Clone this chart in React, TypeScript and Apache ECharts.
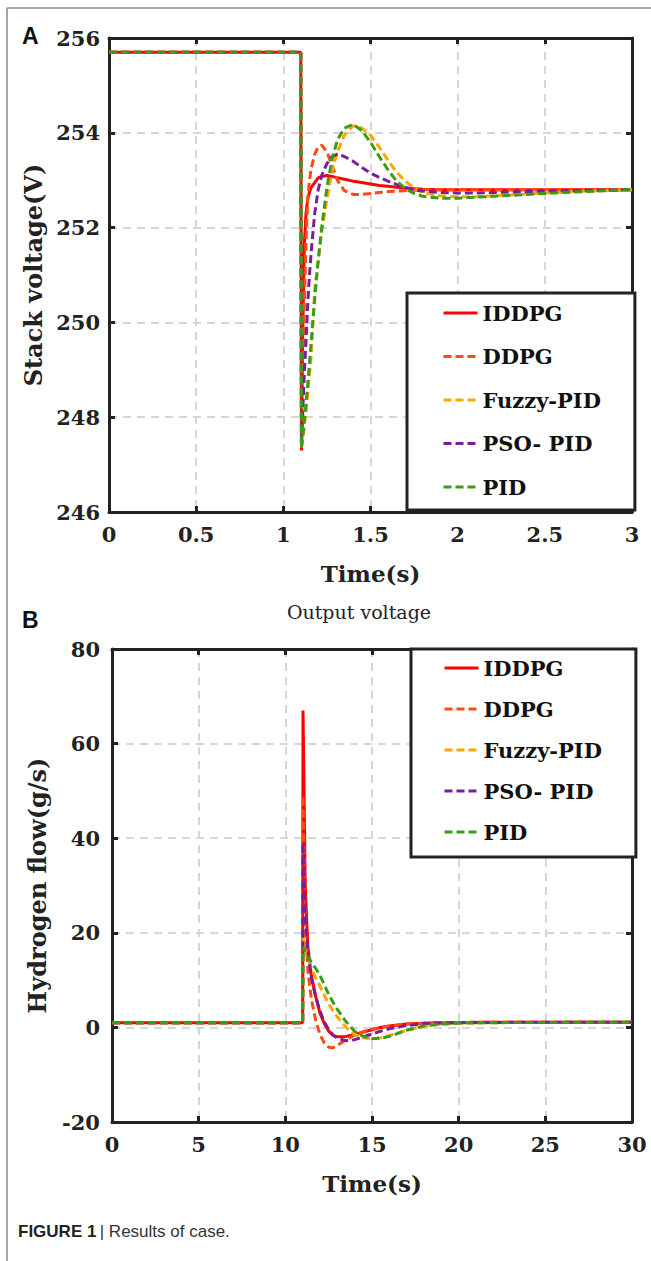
import React, { useEffect, useRef } from "react";
import * as echarts from "echarts";

// ---------- Data ----------
const seriesNames = ["IDDPG", "DDPG", "Fuzzy-PID", "PSO- PID", "PID"];
const seriesColors = ["#ff0000", "#ff4a12", "#ffa500", "#7a1f9c", "#3a9d1a"];

// Chart A: stack voltage (V) vs time (s)
const timeA = [0, 1.1, 1.104, 1.11, 1.12, 1.13, 1.14, 1.15, 1.16, 1.18, 1.2, 1.22, 1.25, 1.28, 1.31, 1.35, 1.4, 1.45, 1.5, 1.55, 1.6, 1.65, 1.7, 1.75, 1.8, 1.9, 2.0, 2.1, 2.2, 2.4, 2.6, 2.8, 3.0];
const iddpgA = [255.7, 255.7, 247.3, 249.5, 251.6, 252.3, 252.6, 252.75, 252.85, 252.95, 253.05, 253.08, 253.1, 253.08, 253.05, 253.02, 252.98, 252.95, 252.92, 252.89, 252.87, 252.85, 252.83, 252.82, 252.81, 252.8, 252.8, 252.8, 252.8, 252.8, 252.8, 252.8, 252.8];
const ddpgA = [255.7, 255.7, 247.4, 248.6, 250.3, 251.7, 252.6, 253.0, 253.25, 253.55, 253.7, 253.74, 253.6, 253.3, 253.0, 252.78, 252.7, 252.7, 252.72, 252.74, 252.76, 252.77, 252.78, 252.79, 252.8, 252.8, 252.8, 252.8, 252.8, 252.8, 252.8, 252.8, 252.8];
const fuzzyA = [255.7, 255.7, 247.35, 247.5, 247.8, 248.1, 248.5, 248.9, 249.3, 250.7, 251.3, 251.9, 252.6, 253.2, 253.6, 253.95, 254.15, 254.1, 253.95, 253.7, 253.42, 253.17, 252.98, 252.83, 252.74, 252.67, 252.65, 252.65, 252.67, 252.71, 252.75, 252.78, 252.8];
const psoA = [255.7, 255.7, 247.4, 248.0, 248.9, 249.6, 250.4, 251.0, 251.5, 252.3, 252.8, 253.1, 253.35, 253.5, 253.55, 253.5, 253.4, 253.27, 253.15, 253.06, 252.98, 252.91, 252.85, 252.8, 252.77, 252.74, 252.73, 252.73, 252.74, 252.76, 252.78, 252.79, 252.8];
const pidA = [255.7, 255.7, 247.35, 247.55, 247.9, 248.3, 248.7, 249.15, 249.6, 250.5, 251.3, 252.0, 252.85, 253.45, 253.85, 254.1, 254.18, 254.05, 253.8, 253.5, 253.22, 252.98, 252.82, 252.72, 252.66, 252.62, 252.62, 252.64, 252.66, 252.7, 252.74, 252.77, 252.8];

// Chart B: hydrogen flow (g/s) vs time (s)
const timeB = [0, 11, 11.02, 11.15, 11.3, 11.5, 11.75, 12, 12.25, 12.5, 12.75, 13, 13.5, 14, 14.5, 15, 15.5, 16, 17, 18, 19, 20, 22, 25, 30];
const iddpgB = [1, 1, 67, 30, 17, 11, 6.5, 3, 0.8, -0.8, -1.7, -2.0, -1.9, -1.5, -1.0, -0.5, 0.0, 0.3, 0.7, 0.9, 1.0, 1.05, 1.1, 1.1, 1.1];
const ddpgB = [1, 1, 49, 22, 12, 6, 1.5, -1.5, -3.3, -4.2, -4.3, -3.8, -2.6, -1.6, -0.9, -0.4, 0.0, 0.3, 0.7, 0.9, 1.0, 1.05, 1.1, 1.1, 1.1];
const fuzzyB = [1, 1, 19, 16.5, 14.5, 12.5, 10.5, 8.7, 6.8, 5.0, 3.5, 2.2, 0.0, -1.5, -2.2, -2.4, -2.2, -1.7, -0.6, 0.3, 0.7, 0.9, 1.0, 1.05, 1.1];
const psoB = [1, 1, 39, 24, 16, 10.5, 6.5, 3.5, 1.2, -0.5, -1.6, -2.3, -2.8, -2.6, -2.0, -1.4, -0.8, -0.3, 0.4, 0.8, 0.95, 1.0, 1.05, 1.1, 1.1];
const pidB = [1, 1, 17, 16, 15, 13.8, 12.5, 11, 9, 7, 5.3, 3.8, 1.2, -0.8, -1.9, -2.4, -2.3, -1.9, -0.6, 0.3, 0.7, 0.9, 1.0, 1.05, 1.1];

const valuesA = [iddpgA, ddpgA, fuzzyA, psoA, pidA];
const valuesB = [iddpgB, ddpgB, fuzzyB, psoB, pidB];

const xTicksA = { min: 0, max: 3, interval: 0.5 };
const yTicksA = { min: 246, max: 256, interval: 2 };
const xTicksB = { min: 0, max: 30, interval: 5 };
const yTicksB = { min: -20, max: 80, interval: 20 };

// ---------- Styles ----------
const SERIF = "DejaVu Serif";
const AXIS_COLOR = "#222";
const lineTypes: any[] = ["solid", [8, 4], [8, 4], [8, 4], [8, 4]];

function axisPair(dim: "x" | "y", ticks: any, gridIndex: number, opts: any) {
  const common = {
    type: "value",
    gridIndex,
    min: ticks.min,
    max: ticks.max,
    interval: ticks.interval,
    axisLine: { show: true, onZero: false, lineStyle: { color: AXIS_COLOR, width: 3 } },
    axisTick: { show: true, inside: true, length: 6, lineStyle: { color: AXIS_COLOR, width: 3 } },
  };
  const main = {
    ...common,
    position: dim === "x" ? "bottom" : "left",
    axisLabel: {
      show: true,
      margin: opts.labelMargin,
      fontFamily: SERIF,
      fontWeight: "bold",
      fontSize: 21,
      color: "#222",
    },
    splitLine: { show: true, lineStyle: { color: "#d6d6d6", width: 2, type: [8, 6] } },
    name: opts.name,
    nameLocation: "middle",
    nameGap: opts.nameGap,
    nameTextStyle: { fontFamily: SERIF, fontWeight: "bold", fontSize: opts.nameSize, color: "#222" },
  };
  const mirror = {
    ...common,
    position: dim === "x" ? "top" : "right",
    axisLabel: { show: false },
    splitLine: { show: false },
  };
  return [main, mirror];
}

export default function App() {
  const ref = useRef<HTMLDivElement>(null);

  useEffect(() => {
    if (!ref.current) return;
    const chart = echarts.init(ref.current, null, { renderer: "svg" });

    const series: any[] = [];
    seriesNames.forEach((name, i) => {
      const base = {
        name,
        type: "line",
        showSymbol: false,
        symbol: "none",
        lineStyle: { color: seriesColors[i], width: 3, type: lineTypes[i] },
        itemStyle: { color: seriesColors[i] },
        z: 2 + i,
      };
      series.push({ ...base, xAxisIndex: 0, yAxisIndex: 0, data: timeA.map((t, k) => [t, valuesA[i][k]]) });
      series.push({ ...base, xAxisIndex: 2, yAxisIndex: 2, data: timeB.map((t, k) => [t, valuesB[i][k]]) });
    });

    const [xA, xA2] = axisPair("x", xTicksA, 0, { name: "Time(s)", nameGap: 50, nameSize: 23, labelMargin: 12 });
    const [yA, yA2] = axisPair("y", yTicksA, 0, { name: "Stack voltage(V)", nameGap: 60, nameSize: 24, labelMargin: 9 });
    const [xB, xB2] = axisPair("x", xTicksB, 1, { name: "Time(s)", nameGap: 50, nameSize: 23, labelMargin: 12 });
    const [yB, yB2] = axisPair("y", yTicksB, 1, { name: "Hydrogen flow(g/s)", nameGap: 63, nameSize: 24, labelMargin: 12 });

    const legendText = { fontFamily: SERIF, fontWeight: "bold", fontSize: 21, color: "#111", lineHeight: 22 };
    const legendCommon = {
      data: seriesNames,
      orient: "vertical",
      itemWidth: 34,
      itemHeight: 14,
      backgroundColor: "#fff",
      borderColor: AXIS_COLOR,
      borderWidth: 3,
      borderRadius: 0,
      selectedMode: false,
      itemStyle: { opacity: 0, borderWidth: 0 },
      lineStyle: { width: 3 },
      textStyle: legendText,
    };

    chart.setOption({
      animation: false,
      backgroundColor: "#fff",
      grid: [
        { left: 109, top: 38, width: 523, height: 474 },
        { left: 112, top: 649, width: 520, height: 473 },
      ],
      xAxis: [xA, xA2, xB, xB2],
      yAxis: [yA, yA2, yB, yB2],
      legend: [
        { ...legendCommon, left: 407, top: 293, itemGap: 21.5, padding: [9, 34, 12, 35] },
        { ...legendCommon, left: 411, top: 649, itemGap: 19, padding: [8, 34, 14, 32] },
      ],
      graphic: [
        { type: "line", shape: { x1: 7, y1: 8, x2: 651, y2: 8 }, style: { stroke: "#8a8a8a", lineWidth: 1.5 } },
        { type: "line", shape: { x1: 7, y1: 8, x2: 7, y2: 1261 }, style: { stroke: "#8a8a8a", lineWidth: 1.5 } },
        {
          type: "text",
          left: 22,
          top: 24,
          style: { text: "A", font: "bold 23px 'Liberation Sans', Arial, sans-serif", fill: "#111" },
        },
        {
          type: "text",
          left: 22,
          top: 608,
          style: { text: "B", font: "bold 23px 'Liberation Sans', Arial, sans-serif", fill: "#111" },
        },
        {
          type: "text",
          x: 359,
          y: 612,
          style: {
            text: "Output voltage",
            font: `19px '${SERIF}', serif`,
            fill: "#222",
            textAlign: "center",
            textVerticalAlign: "middle",
          },
        },
        {
          type: "text",
          x: 18,
          y: 1231,
          style: {
            text: "{b|FIGURE 1} {n|| Results of case.}",
            textVerticalAlign: "middle",
            rich: {
              b: { fontFamily: "Liberation Sans", fontWeight: "bold", fontSize: 17, fill: "#222" },
              n: { fontFamily: "Liberation Sans", fontSize: 17, fill: "#333" },
            },
          },
        },
      ],
      series,
    });

    return () => chart.dispose();
  }, []);

  return (
    <div
      ref={ref}
      style={{ position: "absolute", left: 0, top: 0, width: 651, height: 1261, background: "#fff" }}
    />
  );
}
